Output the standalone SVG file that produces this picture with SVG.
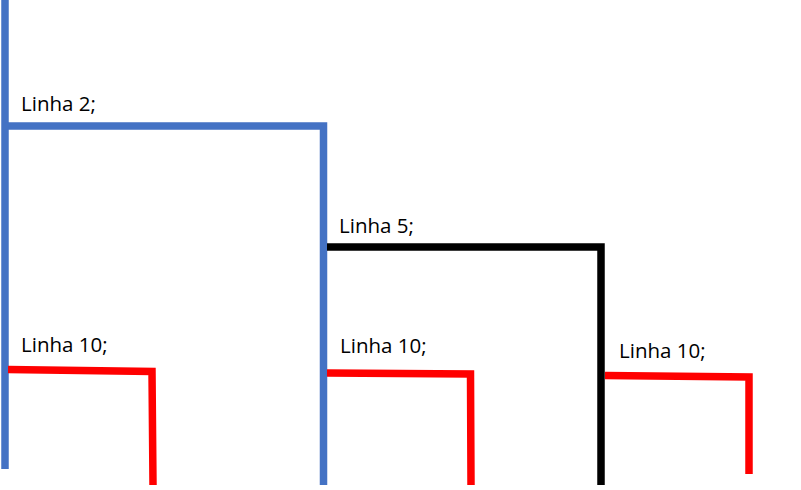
<svg xmlns="http://www.w3.org/2000/svg" width="801" height="490" viewBox="0 0 801 490">
<style>
.l{fill:none;stroke-width:7.5;stroke-linejoin:miter;stroke-linecap:butt}
.b{stroke:#4472C4}
.k{stroke:#000}
.r{stroke:#FF0000}
text{font-family:"Open Sans","Liberation Sans",Arial,sans-serif;font-size:20.5px;fill:#000}
</style>
<rect width="801" height="490" fill="#fff"/>
<g id="connectors">
<path class="l b" d="M5,0 V469"/>
<path class="l b" d="M5,126 H323.5 V485"/>
<path class="l k" d="M327,247 H601 V485"/>
<path class="l r" d="M8,369.5 L152,371.5 L153,485"/>
<path class="l r" d="M327,373 L470.5,374 L471,485"/>
<path class="l r" d="M605,375.5 L749,377 V474"/>
</g>
<g id="n1"><text x="21" y="111">Linha 2;</text></g>
<g id="n2"><text x="339" y="233">Linha 5;</text></g>
<g id="n3"><text x="21" y="352">Linha 10;</text></g>
<g id="n4"><text x="340" y="353">Linha 10;</text></g>
<g id="n5"><text x="619" y="358">Linha 10;</text></g>
</svg>
